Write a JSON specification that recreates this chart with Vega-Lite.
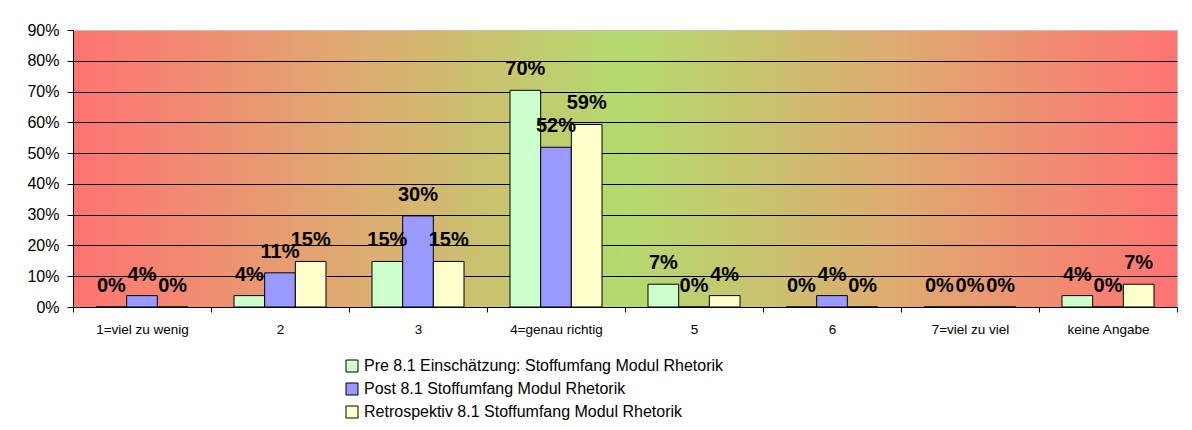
{
  "$schema": "https://vega.github.io/schema/vega-lite/v6.json",
  "width": 1104,
  "height": 277,
  "autosize": {"type": "none"},
  "padding": {"left": 73, "top": 30, "right": 15, "bottom": 123},
  "background": "white",
  "view": {
    "stroke": "#C0C0C0",
    "strokeWidth": 1,
    "fill": {
      "gradient": "linear",
      "x1": 0, "x2": 1, "y1": 0, "y2": 0,
      "stops": [
        {"offset": 0, "color": "#FF7373"},
        {"offset": 0.25, "color": "#DFAA70"},
        {"offset": 0.5, "color": "#B4DA6E"},
        {"offset": 0.75, "color": "#DFAA70"},
        {"offset": 1, "color": "#FF7373"}
      ]
    }
  },
  "config": {
    "font": "Liberation Sans",
    "axisY": {
      "labelOverlap": false, "grid": true, "gridColor": "black", "gridOpacity": 1,
      "domainColor": "black", "tickColor": "black", "tickSize": 6,
      "labelPadding": 8, "labelFontSize": 16, "labelColor": "black"
    }
  },
  "datasets": {
    "answers": [
      {"category": "1=viel zu wenig", "series": "Pre 8.1 Einschätzung: Stoffumfang Modul Rhetorik", "value": 0},
      {"category": "1=viel zu wenig", "series": "Post 8.1 Stoffumfang Modul Rhetorik", "value": 0.037},
      {"category": "1=viel zu wenig", "series": "Retrospektiv 8.1 Stoffumfang Modul Rhetorik", "value": 0},
      {"category": "2", "series": "Pre 8.1 Einschätzung: Stoffumfang Modul Rhetorik", "value": 0.037},
      {"category": "2", "series": "Post 8.1 Stoffumfang Modul Rhetorik", "value": 0.111},
      {"category": "2", "series": "Retrospektiv 8.1 Stoffumfang Modul Rhetorik", "value": 0.148},
      {"category": "3", "series": "Pre 8.1 Einschätzung: Stoffumfang Modul Rhetorik", "value": 0.148},
      {"category": "3", "series": "Post 8.1 Stoffumfang Modul Rhetorik", "value": 0.296},
      {"category": "3", "series": "Retrospektiv 8.1 Stoffumfang Modul Rhetorik", "value": 0.148},
      {"category": "4=genau richtig", "series": "Pre 8.1 Einschätzung: Stoffumfang Modul Rhetorik", "value": 0.704},
      {"category": "4=genau richtig", "series": "Post 8.1 Stoffumfang Modul Rhetorik", "value": 0.519},
      {"category": "4=genau richtig", "series": "Retrospektiv 8.1 Stoffumfang Modul Rhetorik", "value": 0.593},
      {"category": "5", "series": "Pre 8.1 Einschätzung: Stoffumfang Modul Rhetorik", "value": 0.074},
      {"category": "5", "series": "Post 8.1 Stoffumfang Modul Rhetorik", "value": 0},
      {"category": "5", "series": "Retrospektiv 8.1 Stoffumfang Modul Rhetorik", "value": 0.037},
      {"category": "6", "series": "Pre 8.1 Einschätzung: Stoffumfang Modul Rhetorik", "value": 0},
      {"category": "6", "series": "Post 8.1 Stoffumfang Modul Rhetorik", "value": 0.037},
      {"category": "6", "series": "Retrospektiv 8.1 Stoffumfang Modul Rhetorik", "value": 0},
      {"category": "7=viel zu viel", "series": "Pre 8.1 Einschätzung: Stoffumfang Modul Rhetorik", "value": 0},
      {"category": "7=viel zu viel", "series": "Post 8.1 Stoffumfang Modul Rhetorik", "value": 0},
      {"category": "7=viel zu viel", "series": "Retrospektiv 8.1 Stoffumfang Modul Rhetorik", "value": 0},
      {"category": "keine Angabe", "series": "Pre 8.1 Einschätzung: Stoffumfang Modul Rhetorik", "value": 0.037},
      {"category": "keine Angabe", "series": "Post 8.1 Stoffumfang Modul Rhetorik", "value": 0},
      {"category": "keine Angabe", "series": "Retrospektiv 8.1 Stoffumfang Modul Rhetorik", "value": 0.074}
    ]
  },
  "data": {"name": "answers"},
  "encoding": {
    "x": {
      "field": "category", "type": "nominal", "sort": null,
      "scale": {"paddingInner": 0, "paddingOuter": 0},
      "axis": {
        "title": null, "labelAngle": 0, "tickBand": "extent",
        "domainColor": "black", "tickColor": "black", "tickSize": 5,
        "labelPadding": 10, "labelFontSize": 13.5, "labelColor": "black",
        "grid": false
      }
    },
    "xOffset": {
      "field": "series", "type": "nominal", "sort": null,
      "scale": {"paddingInner": 0, "paddingOuter": 0.75}
    },
    "y": {
      "field": "value", "type": "quantitative",
      "scale": {"domain": [0, 0.9], "nice": false},
      "axis": {
        "title": null, "format": ".0%", "tickCount": 20,
        "values": [0, 0.1, 0.2, 0.3, 0.4, 0.5, 0.6, 0.7, 0.8, 0.9],
        "gridColor": {"condition": {"test": "datum.value >= 0.89", "value": "#C0C0C0"}, "value": "black"}
      }
    }
  },
  "layer": [
    {
      "mark": {"type": "bar", "stroke": "black", "strokeWidth": 1},
      "encoding": {
        "color": {
          "field": "series", "type": "nominal", "sort": null,
          "scale": {
            "domain": [
              "Pre 8.1 Einschätzung: Stoffumfang Modul Rhetorik",
              "Post 8.1 Stoffumfang Modul Rhetorik",
              "Retrospektiv 8.1 Stoffumfang Modul Rhetorik"
            ],
            "range": ["#CCFFCC", "#9999FF", "#FFFFCC"]
          },
          "legend": {
            "title": null, "orient": "none", "legendX": 271, "legendY": 328,
            "padding": 0, "symbolType": "square", "symbolSize": 144,
            "symbolStrokeColor": "black", "symbolStrokeWidth": 1, "symbolOpacity": 1,
            "labelFontSize": 16, "labelColor": "black", "labelOffset": 4,
            "rowPadding": 7, "labelLimit": 600
          }
        }
      }
    },
    {
      "mark": {"type": "text", "fontWeight": "bold", "fontSize": 20, "baseline": "alphabetic", "dy": -15, "color": "black"},
      "encoding": {
        "text": {"field": "value", "type": "quantitative", "format": ".0%"}
      }
    }
  ]
}
